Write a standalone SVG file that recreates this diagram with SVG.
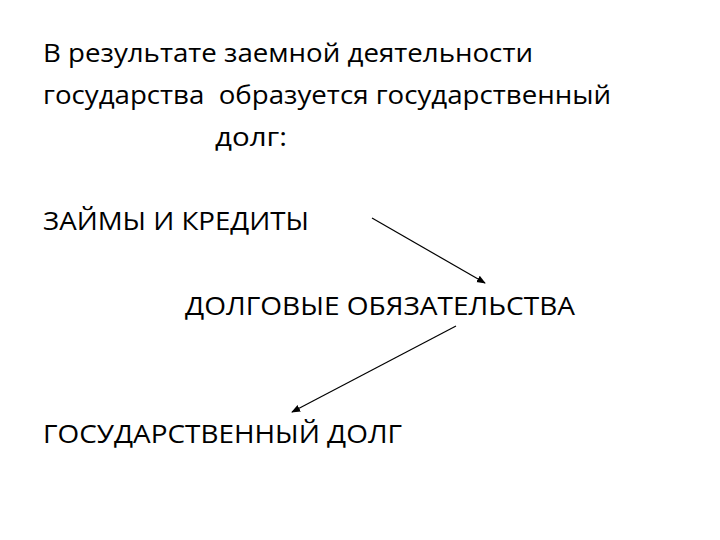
<svg xmlns="http://www.w3.org/2000/svg" width="720" height="540" viewBox="0 0 720 540">
<defs>
<style>
text{font-family:"Open Sans","Noto Sans","DejaVu Sans",sans-serif;font-size:25px;fill:#000}
.c{stroke:#000;stroke-width:1.2;fill:none;marker-end:url(#ah)}
</style>
<marker id="ah" viewBox="0 0 10 10" refX="9" refY="5" markerWidth="9" markerHeight="9" markerUnits="userSpaceOnUse" orient="auto">
<path d="M0,1 L10,5 L0,9 Z" fill="#000"/>
</marker>
</defs>
<rect width="720" height="540" fill="#fff"/>
<g id="title">
<text x="43" y="62" textLength="490" lengthAdjust="spacingAndGlyphs">В результате заемной деятельности</text>
<text x="43" y="104" textLength="568" lengthAdjust="spacingAndGlyphs" xml:space="preserve">государства  образуется государственный</text>
<text x="215" y="146" textLength="72" lengthAdjust="spacingAndGlyphs">долг:</text>
</g>
<g id="n1"><text x="43" y="230" textLength="266" lengthAdjust="spacingAndGlyphs">ЗАЙМЫ И КРЕДИТЫ</text></g>
<g id="n2"><text x="185" y="315" textLength="390" lengthAdjust="spacingAndGlyphs">ДОЛГОВЫЕ ОБЯЗАТЕЛЬСТВА</text></g>
<g id="n3"><text x="43" y="443" textLength="359" lengthAdjust="spacingAndGlyphs">ГОСУДАРСТВЕННЫЙ ДОЛГ</text></g>
<g id="connectors">
<line class="c" x1="372" y1="218" x2="485" y2="283"/>
<line class="c" x1="456" y1="326" x2="292" y2="412"/>
</g>
</svg>
